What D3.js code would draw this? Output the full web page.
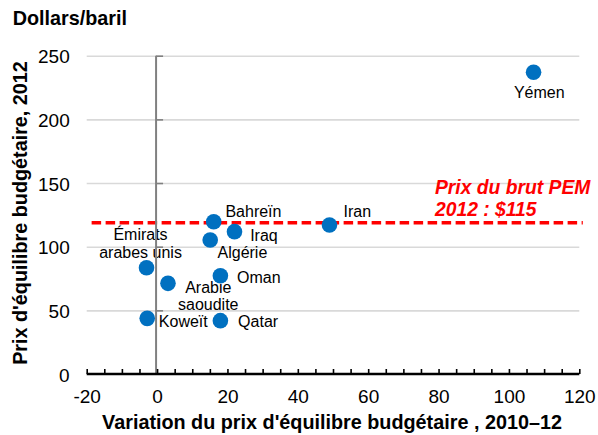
<!DOCTYPE html>
<html>
<head>
<meta charset="utf-8">
<script src="https://cdn.jsdelivr.net/npm/d3@7"></script>
<style>
  html, body { margin: 0; padding: 0; background: #fff; }
  svg { display: block; font-family: "Liberation Sans", Arial, sans-serif; }
</style>
</head>
<body>
<svg id="chart" width="598" height="435"></svg>
<script>
// ---- Data ----
const countries = ["Yémen", "Iran", "Bahreïn", "Iraq", "Algérie", "Émirats arabes unis", "Oman", "Arabie saoudite", "Koweït", "Qatar"];
const changeValues = [107, 49, 16.1, 22, 15.1, -3, 18, 3.1, -2.8, 18];      // x: variation 2010–12
const breakevenValues = [237, 117, 119.6, 111.8, 105.3, 83.5, 77.2, 71.2, 43.7, 41.9]; // y: prix d'équilibre 2012
const labelLines = [["Yémen"], ["Iran"], ["Bahreïn"], ["Iraq"], ["Algérie"], ["Émirats", "arabes unis"], ["Oman"], ["Arabie", "saoudite"], ["Koweït"], ["Qatar"]];
const oilPriceLine = 118.8;
const oilPriceLabel = ["Prix du brut PEM", "2012 : $115"];
const xTicks = [-20, 0, 20, 40, 60, 80, 100, 120];
const xMinorTicks = d3.range(-20, 121, 5);
const yTicks = [0, 50, 100, 150, 200, 250];
const xTitle = "Variation du prix d'équilibre budgétaire , 2010–12";
const yTitle = "Prix d'équilibre budgétaire, 2012";
const unitTitle = "Dollars/baril";

// ---- Label placement (layout only) ----
const labelPlacement = {
  "Yémen": { dx: 5.7, dy: 26, anchor: "middle", lh: 18 },
  "Iran": { dx: 14, dy: -8.3, anchor: "start", lh: 18 },
  "Bahreïn": { dx: 11.7, dy: -4.7, anchor: "start", lh: 18 },
  "Iraq": { dx: 15.7, dy: 9.8, anchor: "start", lh: 18 },
  "Algérie": { dx: 7.3, dy: 17.7, anchor: "start", lh: 18 },
  "Émirats arabes unis": { dx: -6, dy: -27.7, anchor: "middle", lh: 18.3 },
  "Oman": { dx: 16.7, dy: 7.6, anchor: "start", lh: 18 },
  "Arabie saoudite": { dx: 40.3, dy: 9.4, anchor: "middle", lh: 17.5 },
  "Koweït": { dx: 11.6, dy: 8.4, anchor: "start", lh: 18 },
  "Qatar": { dx: 17.7, dy: 6, anchor: "start", lh: 18 }
};

const points = countries.map((c, i) => ({ name: c, x: changeValues[i], y: breakevenValues[i], lines: labelLines[i] }));

// ---- Layout ----
const svg = d3.select("#chart");
const plot = { left: 86.7, right: 579.3, top: 55.7, bottom: 374 };

const x = d3.scaleLinear().domain([-20, 120]).range([plot.left, plot.right]);
const y = d3.scaleLinear().domain([0, 250]).range([plot.bottom, plot.top]);

const blue = "#0070C0";
const red = "#FF0000";

// Gridlines + y tick labels
const yAxis = svg.append("g")
  .attr("transform", `translate(${plot.left},0)`)
  .call(d3.axisLeft(y).tickValues(yTicks).tickSize(-(plot.right - plot.left)).tickPadding(17).tickFormat(d => String(d)));
yAxis.select(".domain").remove();
yAxis.selectAll(".tick line").attr("stroke", "#d9d9d9").attr("stroke-width", 1.6)
  .attr("opacity", d => d === 0 ? 0 : 1);
yAxis.selectAll(".tick text").attr("font-size", 19).attr("fill", "#000")
  .attr("font-family", "'Liberation Sans', Arial, sans-serif").attr("dy", "0.38em");

// Red dashed oil price line
svg.append("line")
  .attr("x1", x(-18.6)).attr("x2", x(121))
  .attr("y1", y(oilPriceLine)).attr("y2", y(oilPriceLine))
  .attr("stroke", red).attr("stroke-width", 3.5)
  .attr("stroke-dasharray", "9.5,4.5");

const redText = svg.append("text")
  .attr("x", 435).attr("y", 194)
  .attr("fill", red).attr("font-size", 19.3).attr("font-weight", "bold").attr("font-style", "italic");
redText.selectAll("tspan").data(oilPriceLabel).join("tspan")
  .attr("x", 435).attr("dy", (d, i) => i === 0 ? 0 : 22).text(d => d);

// Data labels
const labels = svg.append("g").attr("font-size", 16).attr("fill", "#000");
points.forEach(p => {
  const pl = labelPlacement[p.name];
  const t = labels.append("text")
    .attr("text-anchor", pl.anchor);
  p.lines.forEach((line, i) => {
    t.append("tspan")
      .attr("x", x(p.x) + pl.dx)
      .attr("y", y(p.y) + pl.dy + i * pl.lh)
      .text(line);
  });
});

// Vertical zero axis (gray) with small ticks to the right
const zeroAxis = svg.append("g")
  .attr("transform", `translate(${x(0) - 1},0)`)
  .call(d3.axisRight(y).tickValues(yTicks.filter(d => d > 0)).tickSize(7).tickFormat(""));
zeroAxis.select(".domain").attr("stroke", "#808080").attr("stroke-width", 2)
  .attr("d", `M0,${plot.top}V${plot.bottom}`);
zeroAxis.selectAll(".tick line").attr("stroke", "#808080").attr("stroke-width", 1.6);

// Points
svg.append("g").selectAll("circle").data(points).join("circle")
  .attr("cx", d => x(d.x)).attr("cy", d => y(d.y)).attr("r", 7.8)
  .attr("fill", blue);

// X axis: minor ticks (upward) and labels
const xAxisG = svg.append("g")
  .attr("transform", `translate(0,${plot.bottom})`)
  .call(d3.axisBottom(x).tickValues(xMinorTicks).tickSizeInner(-5).tickSizeOuter(0).tickFormat(""));
xAxisG.select(".domain").attr("stroke", "#000").attr("stroke-width", 2.5)
  .attr("d", `M${plot.left},0H${plot.right}`);
xAxisG.selectAll(".tick line").attr("stroke", "#000").attr("stroke-width", 1.6);

const xLabels = svg.append("g")
  .attr("transform", `translate(0,${plot.bottom})`)
  .call(d3.axisBottom(x).tickValues(xTicks).tickSize(0).tickPadding(15.5).tickFormat(d => String(d)));
xLabels.select(".domain").remove();
xLabels.selectAll(".tick text").attr("font-size", 19).attr("fill", "#000")
  .attr("font-family", "'Liberation Sans', Arial, sans-serif");

// Titles
svg.append("text")
  .attr("x", 12.7).attr("y", 24.5)
  .attr("font-size", 19.8).attr("font-weight", "bold").attr("fill", "#000")
  .text(unitTitle);

svg.append("text")
  .attr("x", 332).attr("y", 429)
  .attr("text-anchor", "middle")
  .attr("font-size", 19.8).attr("font-weight", "bold").attr("fill", "#000")
  .text(xTitle);

svg.append("text")
  .attr("transform", "translate(27,213) rotate(-90)")
  .attr("text-anchor", "middle")
  .attr("font-size", 19.8).attr("font-weight", "bold").attr("fill", "#000")
  .text(yTitle);
</script>
</body>
</html>
